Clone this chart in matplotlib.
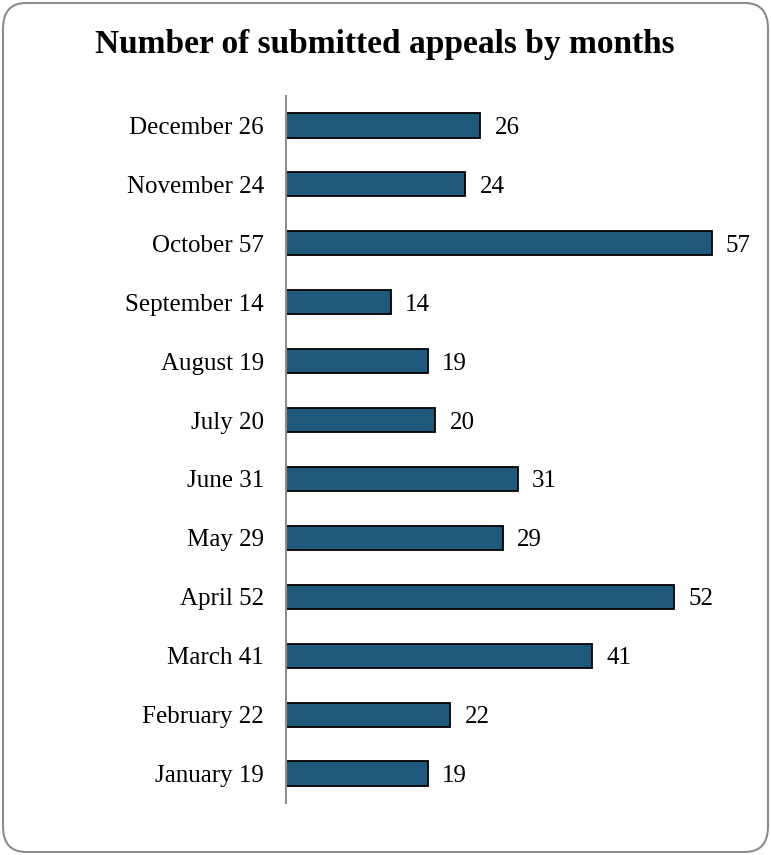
import matplotlib.pyplot as plt
from matplotlib.patches import FancyBboxPatch

months = ['January', 'February', 'March', 'April', 'May', 'June', 'July',
          'August', 'September', 'October', 'November', 'December']
appeals = [19, 22, 41, 52, 29, 31, 20, 19, 14, 57, 24, 26]
labels = [f'{m} {v}' for m, v in zip(months, appeals)]

plt.rcParams['font.family'] = ['Liberation Serif', 'DejaVu Serif']

fig = plt.figure(figsize=(7.71, 8.55), dpi=100)

# rounded frame around the whole chart
frame = FancyBboxPatch((3/771, 3/855), 765/771, 849/855,
                       boxstyle='round,pad=0,rounding_size=0.03',
                       transform=fig.transFigure, facecolor='none',
                       edgecolor='#8c8c8c', linewidth=1.5, zorder=-1)
fig.patches.append(frame)

ax = fig.add_axes([286/771, (855-803)/855, (740-286)/771, (803-96)/855])
ax.set_facecolor('none')
y = range(len(months))
ax.barh(y, appeals, height=0.41, color='#1f5a7c', edgecolor='black', linewidth=1.3)
for yi, v in zip(y, appeals):
    ax.text(v + 1.9, yi, str(v), va='center_baseline', ha='left', fontsize=18)

ax.set_ylim(-0.5, len(months) - 0.5)
ax.set_xlim(0, (740-286)/7.47)
ax.set_yticks(list(y))
ax.set_yticklabels(labels, fontsize=18, va='center_baseline')
ax.tick_params(axis='y', length=0, pad=16)
ax.set_xticks([])
for s in ['top', 'right', 'bottom']:
    ax.spines[s].set_visible(False)
ax.spines['left'].set_color('#8c8c8c')
ax.spines['left'].set_linewidth(1.5)

fig.text(385/771, 1 - 45/855, 'Number of submitted appeals by months',
         ha='center', va='center', fontsize=24, fontweight='bold')

fig.savefig('out.png', dpi=100)
